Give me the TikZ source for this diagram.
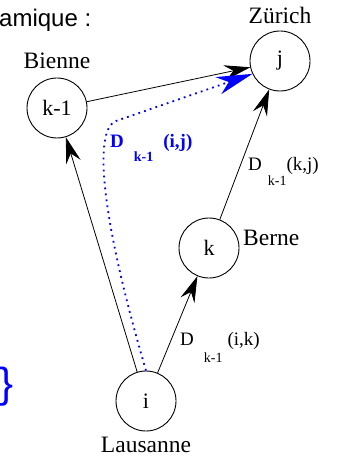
\documentclass[tikz,border=0pt]{standalone}
\usepackage{fontspec}
\setmainfont{Liberation Serif}
\newfontfamily\slidefont{Liberation Sans}
\usetikzlibrary{arrows.meta}
\definecolor{route}{HTML}{0000FF}
\newcommand{\lowidx}[2]{\raisebox{-#1}{\fontsize{14}{14}\selectfont #2}}
\tikzset{
  city/.style  = {draw, circle, minimum size=60pt, inner sep=0pt, line width=0.9pt,
                  font=\fontsize{22}{22}\selectfont},
  place/.style = {anchor=base, inner sep=0pt, font=\fontsize{23.5}{23.5}\selectfont},
  cost/.style  = {anchor=base west, inner sep=0pt, font=\fontsize{19}{19}\selectfont},
  edge/.style  = {-{Stealth[length=26pt, width=15pt, inset=9pt]}, line width=0.8pt},
  best/.style  = {-{Stealth[length=36pt, width=18pt, inset=11pt]}, draw=route,
                  line width=1.8pt, dash pattern=on 1.8pt off 4.2pt},
}

\begin{document}
\begin{tikzpicture}[x=1pt, y=-1pt]
\useasboundingbox (0,0) rectangle (338,457);

% ---------------- slide leftovers ---------------------------------------
\node[anchor=base west, inner sep=0pt, font=\slidefont\fontsize{24}{24}\selectfont]
  at (-1,27) (title) {amique :};
\node[inner sep=0pt, text=route, font=\slidefont\fontsize{42}{42}\selectfont]
  at (6.5,387) (brace) {\}};

% ---------------- cities ------------------------------------------------
\node[city] at (280,61) (j) {j};
\node[city] at (57,108) (km) {k-1};
\node[city] at (209,248) (k) {k};
\node[city] at (146,401) (i) {i};

\node[place] at (280,24) (zurich) {Zürich};
\node[place] at (57,69) (bienne) {Bienne};
\node[place, anchor=base west] at (243,245) (berne) {Berne};
\node[place] at (146,452) (lausanne) {Lausanne};

% ---------------- edges -------------------------------------------------
\draw[edge] (i) -- (km);
\draw[edge] (i) -- (k);
\draw[edge] (k) -- (j);
\draw[edge] (km) -- (j);

\node[cost] at (180,345) (cik) {D\hspace{10pt}\lowidx{17pt}{k-1}\hspace{5pt}(i,k)};
\node[cost] at (248,170) (ckj) {D\hspace{6pt}\lowidx{15pt}{k-1}(k,j)};

% ---------------- path through k-1 --------------------------------------
\draw[best] (i.north) .. controls (96,200) and (96,128) .. (116,121) -- (j.205);
\node[cost, text=route, font=\bfseries\fontsize{19}{19}\selectfont] at (110,147) (cij)
  {D\hspace{10pt}\lowidx{14pt}{k-1}\hspace{10pt}(i,j)};

\end{tikzpicture}
\end{document}
